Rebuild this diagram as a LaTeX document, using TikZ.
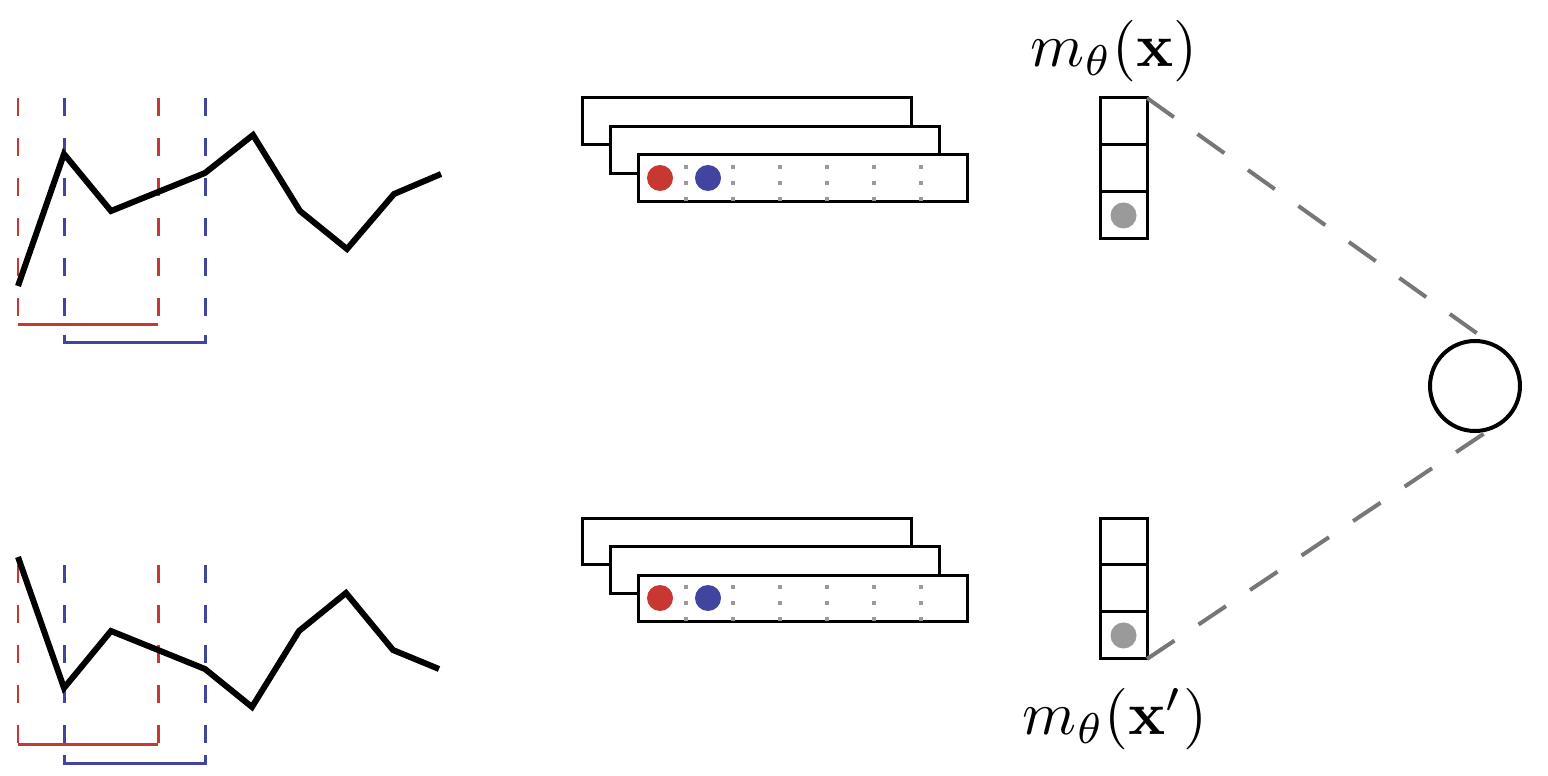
\documentclass[tikz,border=0pt]{standalone}
\usepackage{amsmath, amssymb}
\usetikzlibrary{positioning}
\definecolor{wred}{HTML}{C83732}
\definecolor{wblue}{HTML}{4145A0}
\definecolor{dotg}{HTML}{9A9A9A}
\definecolor{linkg}{HTML}{777777}
\tikzset{
  series/.style={line width=0.12cm},
  win/.style={line width=0.06cm, dash pattern=on 0.36cm off 0.44cm},
  span/.style={line width=0.06cm},
  strip/.style={draw, fill=white, line width=0.06cm, minimum width=6.6cm, minimum height=0.94cm, inner sep=0},
  cell/.style={draw, fill=white, line width=0.06cm, minimum size=0.94cm, inner sep=0, outer sep=0},
  link/.style={linkg, line width=0.08cm, dash pattern=on 0.66cm off 0.58cm},
  lab/.style={scale=3.5}
}

\begin{document}
\begin{tikzpicture}[x=0.02cm,y=-0.02cm]
  \useasboundingbox (0,0) rectangle (1548,776);

  % top series with windows
  \draw[wred,win] (18,98) -- (18,325);
  \draw[wred,win] (158,98) -- (158,325);
  \draw[wblue,win] (64,98) -- (64,343);
  \draw[wblue,win] (205,98) -- (205,343);
  \draw[wred,span] (18,325) -- (158,325);
  \draw[wblue,span] (64,335) -- (64,343) -- (205,343) -- (205,335);
  \draw[series] (18,286) -- (64,154) -- (111,211) -- (158,192) -- (205,173) -- (253,135)
    -- (300,211) -- (347,249) -- (394,194) -- (441,174);

  % bottom series with windows
  \draw[wred,win] (18,565) -- (18,744);
  \draw[wred,win] (158,565) -- (158,744);
  \draw[wblue,win] (64,565) -- (64,763);
  \draw[wblue,win] (205,565) -- (205,763);
  \draw[wred,span] (18,744) -- (158,744);
  \draw[wblue,span] (64,755) -- (64,763) -- (205,763) -- (205,755);
  \draw[series] (18,557) -- (64,688) -- (111,631) -- (158,650) -- (205,669) -- (252,707)
    -- (299,631) -- (346,593) -- (393,650) -- (439,669);

  % stacked feature strips
  \foreach \s/\dy in {a/0,b/420}{
    \node[strip] (\s1) at (747,121.5+\dy) {};
    \node[strip] (\s2) at (775,150+\dy) {};
    \node[strip] (\s3) at (803,178.5+\dy) {};
    \fill[wred] (660,178+\dy) circle (13);
    \fill[wblue] (708,178+\dy) circle (13);
    \foreach \x in {686,733,...,921}
      \draw[dotg, line width=0.08cm, dash pattern=on 0.08cm off 0.24cm] (\x,165+\dy) -- (\x,202+\dy);
  }

  % embedding columns
  \node[cell] (t1) at (1123.5,121.5) {};
  \node[cell, below=0pt of t1] (t2) {};
  \node[cell, below=0pt of t2] (t3) {};
  \fill[dotg] (t3.center) circle (13);
  \node[cell] (u1) at (1123.5,541.5) {};
  \node[cell, below=0pt of u1] (u2) {};
  \node[cell, below=0pt of u2] (u3) {};
  \fill[dotg] (u3.center) circle (13);

  \node[lab] (mx) at (1114,51) {$m_\theta(\mathbf{x})$};
  \node[lab] (mxp) at (1115,719) {$m_\theta(\mathbf{x}')$};

  % similarity
  \node[circle, draw, line width=0.08cm, minimum size=1.8cm, inner sep=0] (sim) at (1475,386) {};
  \draw[link] (t1.north east) -- (sim.75);
  \draw[link] (u3.south east) -- (sim.-75);
\end{tikzpicture}
\end{document}
